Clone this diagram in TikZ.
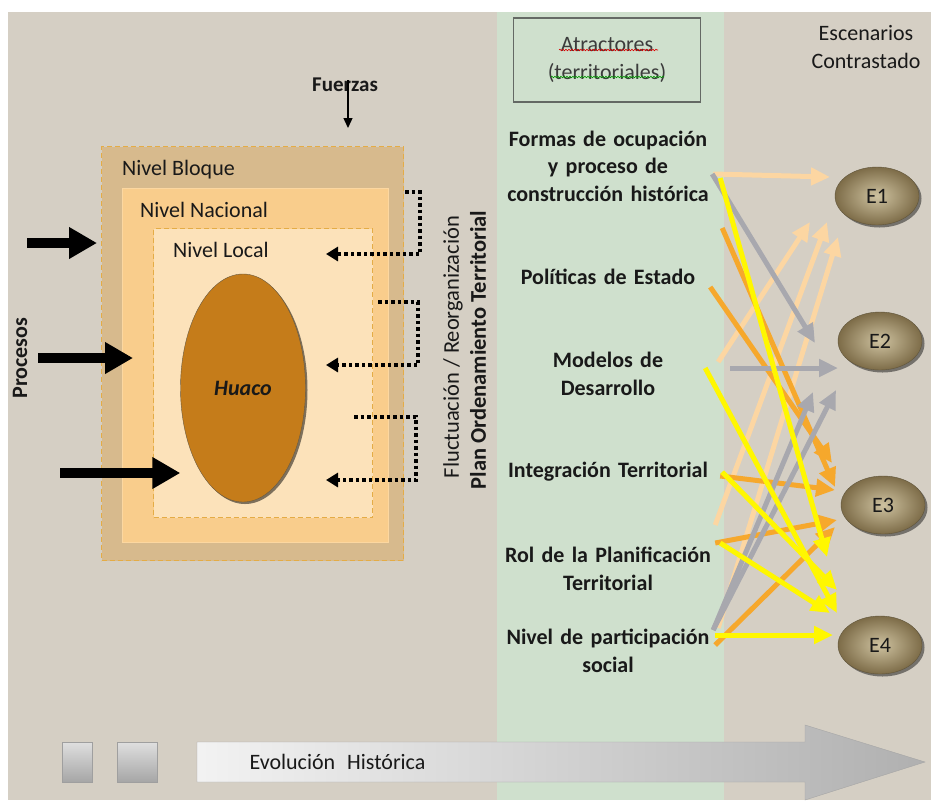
\documentclass[tikz,border=0pt]{standalone}
\usepackage{fontspec}
\setmainfont{Carlito}
\usetikzlibrary{arrows.meta,shapes.geometric,shadows,decorations.pathmorphing}
\definecolor{panel}{RGB}{213,207,196}
\definecolor{attrcol}{RGB}{207,224,205}
\definecolor{bloquefill}{RGB}{215,186,141}
\definecolor{nacfill}{RGB}{249,205,140}
\definecolor{localfill}{RGB}{252,226,186}
\definecolor{lvlline}{RGB}{228,172,70}
\definecolor{huacofill}{RGB}{197,124,26}
\definecolor{peach}{RGB}{252,214,162}
\definecolor{amber}{RGB}{246,168,44}
\definecolor{lemon}{RGB}{255,247,0}
\definecolor{ash}{RGB}{168,168,174}
\definecolor{ink}{RGB}{25,25,25}
\begin{document}
\begin{tikzpicture}[x=1pt,y=-1pt,font=\fontsize{22}{27.5}\selectfont,text=ink,
  lvl/.style={anchor=north west,inner sep=0pt,line width=1.3pt},
  lbl/.style={anchor=base west,inner sep=0pt},
  attr/.style={text width=212pt,align=center,inner sep=0pt,font=\fontsize{22}{27.5}\selectfont\bfseries},
  scen/.style={ellipse,minimum width=84pt,minimum height=58pt,inner sep=0pt,inner color={rgb,255:red,206;green,194;blue,160},
    outer color={rgb,255:red,125;green,108;blue,72},draw={rgb,255:red,95;green,84;blue,58},
    drop shadow={shadow xshift=2.5pt,shadow yshift=-2.5pt,fill=black,opacity=.45}},
  proc/.style={line width=10pt,-{Triangle[length=28pt,width=30pt]}},
  fb/.style={line width=3.5pt,dash pattern=on 3.5pt off 3pt,-{Triangle[length=12pt,width=14pt]}},
  link/.style={line width=5pt,-{Triangle[length=19pt,width=17pt]}}]
\useasboundingbox (0,0) rectangle (931,807);
\fill[white] (0,0) rectangle (931,807);
\fill[panel] (8,12) rectangle (931,800);
\fill[attrcol] (497,12) rectangle (724,800);
% niveles
\node[lvl,fill=bloquefill,draw=lvlline,dash pattern=on 5pt off 3pt,minimum width=302pt,minimum height=414pt] (bloque) at (101,146) {};
\node[lvl,fill=nacfill,draw={rgb,255:red,252;green,215;blue,160},minimum width=266pt,minimum height=354pt] (nacional) at (122,188) {};
\node[lvl,fill=localfill,draw=lvlline,dash pattern=on 5pt off 3pt,line width=1pt,minimum width=219pt,minimum height=289pt] (local) at (153,228) {};
\node[lbl] (bloquelbl) at (122,175) {Nivel Bloque};
\node[lbl] (nacionallbl) at (140,217) {Nivel Nacional};
\node[lbl] (locallbl) at (173,257) {Nivel Local};
\node[ellipse,minimum width=125pt,minimum height=228pt,fill=huacofill,draw={rgb,255:red,105;green,90;blue,65},
  drop shadow={shadow xshift=2pt,shadow yshift=-2pt,fill=black,opacity=.5}] (huaco) at (243,388) {\bfseries\itshape Huaco};
% procesos y fuerzas
\node[rotate=90,font=\fontsize{22}{27.5}\selectfont\bfseries] (procesos) at (20,358) {Procesos};
\foreach \i/\xa/\ya/\dst/\gap in {1/27/243/bloque/4pt,2/38/358/local/20pt,3/60/473/huaco/0pt}{
  \coordinate (pr\i) at (\xa,\ya);
  \draw[proc,shorten >=\gap] (pr\i) -- (pr\i -| \dst.west);
}
\node[font=\fontsize{21}{27.5}\selectfont\bfseries] (fuerzas) at (345,85) {Fuerzas};
\coordinate (fzend) at (348,128);
\draw[line width=1.3pt,shorten <=-5pt,-{Triangle[length=10pt,width=9pt]}] (fzend |- fuerzas.center) -- (fzend);
% retroalimentacion
\foreach \i/\xa/\ya/\xb/\yb in {1/405/192/420/254,2/378/302/418/365,3/354/417/416/480}{
  \coordinate (fb\i s) at (\xa,\ya);
  \coordinate (fb\i e) at (326,\yb);
  \draw[fb] (fb\i s) -| (\xb,\yb) -- (fb\i e);
}
\node[rotate=90,font=\fontsize{22.5}{27.5}\selectfont] (fluct) at (453,347) {Fluctuación / Reorganización};
\node[rotate=90,font=\fontsize{22.5}{27.5}\selectfont\bfseries] (plan) at (478,350) {Plan Ordenamiento Territorial};
% atractores
\node[draw={rgb,255:red,100;green,105;blue,100},line width=1.2pt,minimum width=187pt,minimum height=84pt,align=center,text={rgb,255:red,60;green,60;blue,60}] (atr) at (607,60) {Atractores\\(territoriales)};
\draw[red!85!black,line width=.6pt,decorate,decoration={snake,amplitude=.8pt,segment length=3pt}] ([shift={(-48,-10)}]atr.center) -- ([shift={(51,-10)}]atr.center);
\draw[green!60!black,line width=.6pt,decorate,decoration={snake,amplitude=.8pt,segment length=3pt}] ([shift={(-56,17)}]atr.center) -- ([shift={(57,17)}]atr.center);
\node[attr] (formas) at (608,166) {Formas de ocupación\\y proceso de\\construcción histórica};
\node[attr] (politicas) at (608,277) {Políticas de Estado};
\node[attr] (modelos) at (608,374) {Modelos de\\Desarrollo};
\node[attr] (integracion) at (608,472) {Integración Territorial};
\node[attr] (rol) at (608,569) {Rol de la Planificación\\Territorial};
\node[attr] (nivel) at (608,651) {Nivel de participación\\social};
% escenarios
\node[align=center] (escen) at (866,47) {Escenarios\\Contrastado};
\foreach \n/\xe/\ye in {1/877/196,2/880/341,3/883/505,4/880/645}
  \node[scen] (E\n) at (\xe,\ye) {E\n};
\foreach \col/\src/\sx/\sy/\dst/\ex/\ey in {
  peach/formas/-1/8/E1/-47/-19, peach/modelos/4/-12/E1/-67/26, peach/rol/1/-44/E1/-50/26, peach/nivel/4/-23/E1/-39/41,
  amber/politicas/8/-49/E3/-48/-18, amber/politicas/-4/10/E3/-51/-42, amber/integracion/6/4/E3/-48/-15,
  amber/rol/1/-26/E3/-46/15, amber/nivel/1/-6/E3/-48/22,
  ash/formas/-2/8/E2/-65/2, ash/modelos/16/-6/E2/-42/27, ash/nivel/-1/-21/E2/-44/49, ash/nivel/-1/-21/E2/-67/51,
  lemon/formas/6/12/E4/-53/-88, lemon/integracion/8/0/E4/-43/-55, lemon/modelos/-9/-6/E4/-43/-32,
  lemon/rol/6/-26/E4/-50/-32, lemon/nivel/1/-16/E4/-47/-10}
  \draw[link,\col] ([shift={(\sx,\sy)}]\src.east) -- ([shift={(\ex,\ey)}]\dst.center);
% evolucion
\shade[top color=gray!25,bottom color=gray!70,draw=gray!75] (62,742) rectangle (92,782);
\shade[top color=gray!25,bottom color=gray!70,draw=gray!75] (117,742) rectangle (157,782);
\shade[left color=gray!10,right color=gray!62,draw=gray!70] (197,742) -- (805,742) -- (805,725) -- (925,762) -- (805,800) -- (805,782) -- (197,782) -- cycle;
\node[anchor=west] (evol) at (246,762) {Evolución\hspace{12pt}Histórica};
\end{tikzpicture}
\end{document}
